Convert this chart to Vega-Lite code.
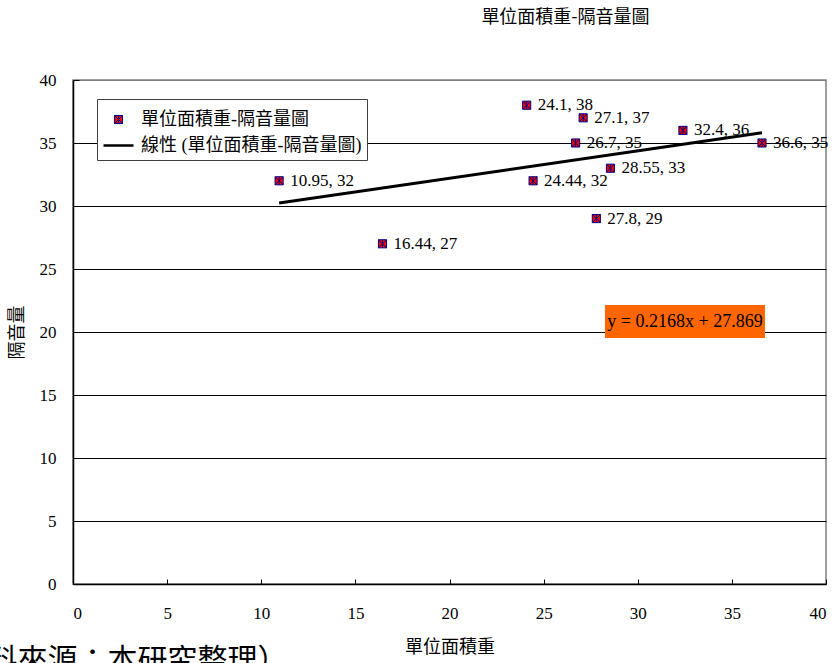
{
  "$schema": "https://vega.github.io/schema/vega-lite/v6.json",
  "autosize": {"type": "none"},
  "padding": {"left": 73, "top": 80, "right": 11, "bottom": 79},
  "width": 753,
  "height": 504,
  "background": "white",
  "title": {
    "text": "單位面積重-隔音量圖",
    "font": "Noto Sans CJK TC",
    "fontSize": 18,
    "fontWeight": "normal",
    "color": "#000000",
    "anchor": "middle",
    "dx": 116,
    "offset": 44
  },
  "config": {
    "view": {"stroke": "#808080", "strokeWidth": 1.5},
    "axis": {
      "labelFont": "Liberation Serif",
      "labelFontSize": 17,
      "labelColor": "#000000",
      "titleFont": "Noto Sans CJK TC",
      "titleFontSize": 18,
      "titleFontWeight": "normal",
      "titleColor": "#000000",
      "domainColor": "#000000",
      "domainWidth": 1.5,
      "tickColor": "#000000",
      "gridOpacity": 1,
      "gridWidth": 1
    },
    "legend": {
      "title": null,
      "orient": "none",
      "legendX": 24,
      "legendY": 19,
      "fillColor": "#ffffff",
      "strokeColor": "#404040",
      "padding": 5,
      "rowPadding": -12,
      "labelFont": "Liberation Serif, Noto Sans CJK TC",
      "labelFontSize": 18,
      "labelColor": "#000000",
      "labelOffset": 6,
      "labelLimit": 400,
      "symbolSize": 900,
      "symbolOpacity": 1
    }
  },
  "datasets": {
    "pts": [
      {"x": 10.95, "y": 32},
      {"x": 16.44, "y": 27},
      {"x": 24.1, "y": 38},
      {"x": 27.1, "y": 37},
      {"x": 26.7, "y": 35},
      {"x": 24.44, "y": 32},
      {"x": 28.55, "y": 33},
      {"x": 27.8, "y": 29},
      {"x": 32.4, "y": 36},
      {"x": 36.6, "y": 35}
    ],
    "eq": [
      {"label": "y = 0.2168x + 27.869", "x1": 28.26, "x2": 36.76, "y1": 19.52, "y2": 22.14, "xc": 32.51, "yc": 20.83}
    ],
    "note": [
      {"label": "（資料來源：本研究整理）", "x": 11.4, "y": -4.9}
    ]
  },
  "layer": [
    {
      "data": {"name": "pts"},
      "mark": {"type": "point", "filled": true, "fill": "#ff0000", "size": 900, "opacity": 1},
      "encoding": {
        "x": {
          "field": "x", "type": "quantitative",
          "scale": {"domain": [0, 40], "nice": false, "zero": false},
          "axis": {
            "title": "單位面積重",
            "values": [0, 5, 10, 15, 20, 25, 30, 35, 40],
            "grid": false,
            "tickSize": -5,
            "labelPadding": 26,
            "titlePadding": 17
          }
        },
        "y": {
          "field": "y", "type": "quantitative",
          "scale": {"domain": [0, 40], "nice": false, "zero": false},
          "axis": {
            "title": "隔音量",
            "values": [0, 5, 10, 15, 20, 25, 30, 35, 40],
            "grid": true,
            "gridColor": {"condition": {"test": "datum.value === 40", "value": "#808080"}, "value": "#000000"},
            "tickSize": -6,
            "labelPadding": 23,
            "titlePadding": 13
          }
        },
        "stroke": {
          "datum": "單位面積重-隔音量圖",
          "type": "nominal",
          "scale": {
            "domain": ["單位面積重-隔音量圖", "線性 (單位面積重-隔音量圖)"],
            "range": ["#000080", "#000000"]
          }
        },
        "shape": {
          "datum": "單位面積重-隔音量圖",
          "type": "nominal",
          "scale": {
            "domain": ["單位面積重-隔音量圖", "線性 (單位面積重-隔音量圖)"],
            "range": ["M-0.27,-0.27H0.27V0.27H-0.27Z M-0.27,-0.27L0.27,0.27 M-0.27,0.27L0.27,-0.27 M0,-0.27V0.27", "stroke"]
          }
        },
        "strokeWidth": {
          "datum": "單位面積重-隔音量圖",
          "type": "ordinal",
          "scale": {
            "type": "point",
            "padding": 0,
            "domain": ["單位面積重-隔音量圖", "線性 (單位面積重-隔音量圖)"],
            "range": [1, 2.5]
          }
        }
      }
    },
    {
      "data": {"name": "pts"},
      "transform": [{"calculate": "datum.x + ', ' + datum.y", "as": "label"}],
      "mark": {"type": "text", "align": "left", "baseline": "middle", "dx": 11, "font": "Liberation Serif", "fontSize": 17, "color": "#000000"},
      "encoding": {
        "x": {"field": "x", "type": "quantitative"},
        "y": {"field": "y", "type": "quantitative"},
        "text": {"field": "label"}
      }
    },
    {
      "data": {"name": "pts"},
      "transform": [{"regression": "y", "on": "x", "method": "linear"}],
      "mark": {"type": "line", "strokeWidth": 3, "color": "#000000"},
      "encoding": {
        "x": {"field": "x", "type": "quantitative"},
        "y": {"field": "y", "type": "quantitative"}
      }
    },
    {
      "data": {"name": "eq"},
      "mark": {"type": "rect", "fill": "#ff6600"},
      "encoding": {
        "x": {"field": "x1", "type": "quantitative"},
        "x2": {"field": "x2"},
        "y": {"field": "y1", "type": "quantitative"},
        "y2": {"field": "y2"}
      }
    },
    {
      "data": {"name": "eq"},
      "mark": {"type": "text", "align": "center", "baseline": "middle", "font": "Liberation Serif", "fontSize": 18, "color": "#000000"},
      "encoding": {
        "x": {"field": "xc", "type": "quantitative"},
        "y": {"field": "yc", "type": "quantitative"},
        "text": {"field": "label"}
      }
    },
    {
      "data": {"name": "note"},
      "mark": {"type": "text", "align": "right", "baseline": "top", "font": "Noto Sans CJK TC", "fontSize": 30, "color": "#000000"},
      "encoding": {
        "x": {"field": "x", "type": "quantitative"},
        "y": {"field": "y", "type": "quantitative"},
        "text": {"field": "label"}
      }
    }
  ]
}
